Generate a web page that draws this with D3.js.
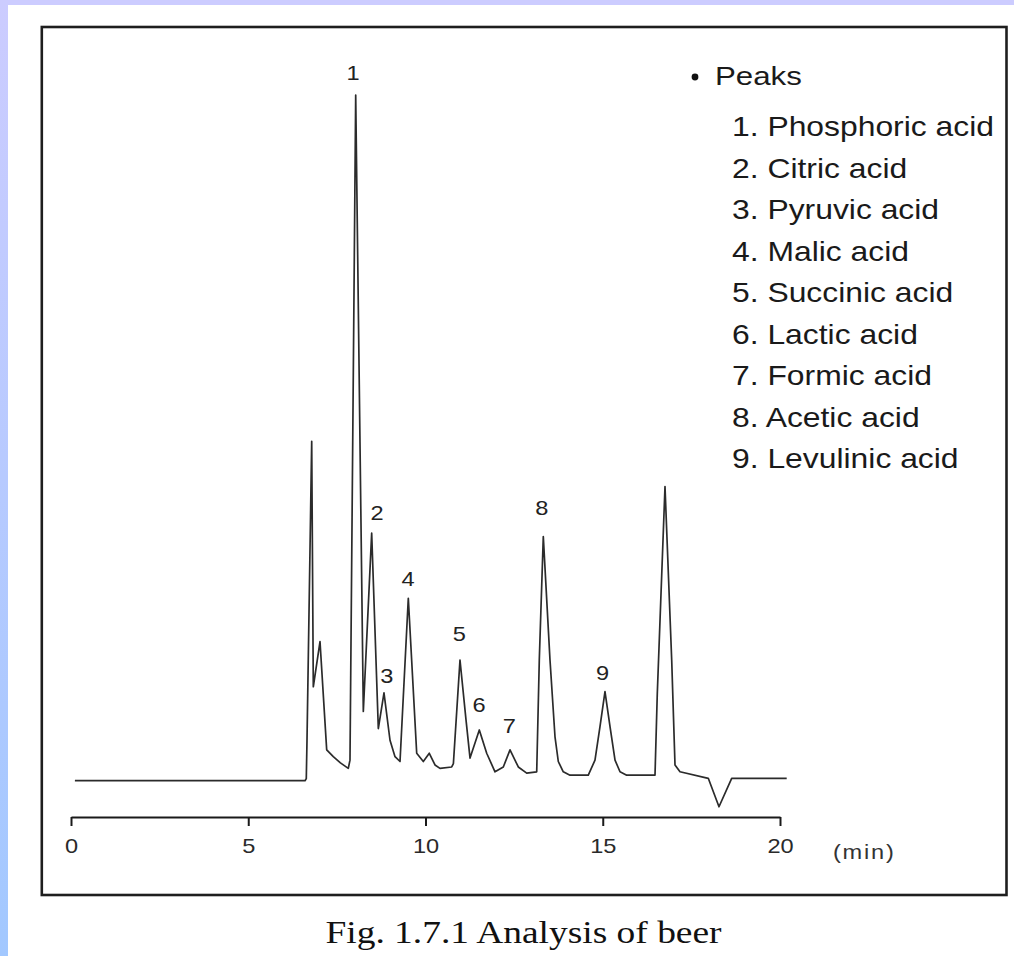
<!DOCTYPE html>
<html>
<head>
<meta charset="utf-8">
<script src="https://cdn.jsdelivr.net/npm/d3@7"></script>
<style>
  html, body { margin: 0; padding: 0; background: #ffffff; }
  svg { display: block; }
</style>
</head>
<body>
<svg id="chart" width="1014" height="956"></svg>
<script>
// ---- Data (retention time in min, detector signal in arbitrary units) ----
const time = [
  0.11, 6.601, 6.637, 6.657, 6.790, 6.835, 7.024, 7.213, 7.399, 7.600, 7.822, 7.870,
  8.031, 8.246, 8.482, 8.669, 8.829, 8.999, 9.140, 9.281, 9.515, 9.752, 9.938,
  10.107, 10.268, 10.409, 10.739, 10.787, 10.973, 11.142, 11.256, 11.518, 11.726,
  11.961, 12.195, 12.384, 12.618, 12.855, 13.137, 13.210, 13.323, 13.512, 13.653,
  13.746, 13.887, 14.076, 14.592, 14.781, 14.922, 15.063, 15.205, 15.346, 15.487,
  15.675, 16.474, 16.539, 16.756, 16.945, 17.038, 17.179, 17.977, 18.279, 18.637,
  20.189
];
const signal = [
  0, 0, 0.3, 5.8, 49.5, 13.7, 20.3, 4.5, 3.5, 2.6, 1.8, 3.0,
  100, 10.1, 36.1, 7.6, 12.8, 5.9, 3.5, 2.8, 26.6, 4.0, 2.8,
  4.0, 2.3, 1.8, 2.0, 2.5, 17.6, 8.9, 3.3, 7.4, 4.0,
  1.3, 2.0, 4.5, 2.0, 1.1, 1.3, 17.6, 35.6, 17.6, 6.4,
  2.8, 1.3, 0.8, 0.8, 3.0, 7.9, 13.0, 7.9, 3.0, 1.3,
  0.8, 0.8, 12.8, 42.9, 17.6, 2.3, 1.3, 0.35, -3.8, 0.35,
  0.35
];

// Peak annotations (number label, placed in data coordinates)
const peakLabels = ["1", "2", "3", "4", "5", "6", "7", "8", "9"];
const labelTime  = [7.955, 8.632, 8.906, 9.506, 10.953, 11.509, 12.364, 13.278, 14.993];
const labelValue = [102.2, 38.0, 14.25, 28.4, 20.4, 10.06, 6.91, 38.75, 14.69];

// Legend
const legendTitle = "Peaks";
const compounds = [
  "Phosphoric acid", "Citric acid", "Pyruvic acid", "Malic acid", "Succinic acid",
  "Lactic acid", "Formic acid", "Acetic acid", "Levulinic acid"
];

// Axis
const xTicks = [0, 5, 10, 15, 20];
const xUnit = "(min)";
const caption = "Fig. 1.7.1 Analysis of beer";

// ---- Drawing ----
const svg = d3.select("#chart");
const STRETCH = 1.18;

// page decoration (slide background strips)
const defs = svg.append("defs");
const grad = defs.append("linearGradient").attr("id", "sideGrad")
  .attr("x1", 0).attr("y1", 0).attr("x2", 0).attr("y2", 1);
grad.append("stop").attr("offset", "0%").attr("stop-color", "#ccccff");
grad.append("stop").attr("offset", "100%").attr("stop-color", "#a2c8ff");
svg.append("rect").attr("x", 0).attr("y", 0).attr("width", 1014).attr("height", 5).attr("fill", "#ccccff");
svg.append("rect").attr("x", 0).attr("y", 0).attr("width", 8).attr("height", 956).attr("fill", "url(#sideGrad)");

// frame
svg.append("rect")
  .attr("x", 41.8).attr("y", 27).attr("width", 964.7).attr("height", 868)
  .attr("fill", "none").attr("stroke", "#1e1e1e").attr("stroke-width", 2.6);

const x = d3.scaleLinear().domain([0, 20]).range([71, 780]);
const y = d3.scaleLinear().domain([0, 100]).range([780.7, 95]);

// x axis
const axisG = svg.append("g").attr("transform", "translate(0,817)")
  .call(d3.axisBottom(x).tickValues(xTicks).tickSize(9).tickSizeOuter(0).tickFormat(d3.format("d")));
axisG.select(".domain").attr("stroke", "#1a1a1a").attr("stroke-width", 2);
axisG.selectAll(".tick line").attr("stroke", "#1a1a1a").attr("stroke-width", 2);
axisG.selectAll(".tick text")
  .attr("y", 22)
  .attr("font-family", "Liberation Sans, Arial, sans-serif")
  .attr("font-size", 20)
  .attr("fill", "#2a2a2a")
  .attr("transform", `scale(${STRETCH},1)`);

svg.append("text")
  .attr("transform", `translate(833,859) scale(${STRETCH},1)`)
  .attr("font-family", "Liberation Sans, Arial, sans-serif")
  .attr("font-size", 20)
  .attr("letter-spacing", 1.5)
  .attr("fill", "#333")
  .text(xUnit);

// chromatogram trace
const pts = time.map((t, i) => [t, signal[i]]);
const line = d3.line().x(d => x(d[0])).y(d => y(d[1])).curve(d3.curveLinear);
svg.append("path")
  .datum(pts)
  .attr("d", line)
  .attr("fill", "none")
  .attr("stroke", "#2b2b2b")
  .attr("stroke-width", 1.7)
  .attr("stroke-linejoin", "round");

// peak labels
svg.append("g").selectAll("text")
  .data(peakLabels)
  .join("text")
  .attr("transform", (d, i) => `translate(${x(labelTime[i])},${y(labelValue[i])}) scale(${STRETCH},1)`)
  .attr("text-anchor", "middle")
  .attr("font-family", "Liberation Sans, Arial, sans-serif")
  .attr("font-size", 20)
  .attr("fill", "#222")
  .text(d => d);

// legend
const lg = svg.append("g");
lg.append("circle").attr("cx", 695).attr("cy", 77).attr("r", 3.4).attr("fill", "#111");
lg.append("text")
  .attr("transform", `translate(715,85) scale(${STRETCH},1)`)
  .attr("font-family", "Liberation Sans, Arial, sans-serif")
  .attr("font-size", 26.5)
  .attr("fill", "#1a1a1a")
  .text(legendTitle);
lg.selectAll("text.item")
  .data(compounds)
  .join("text")
  .attr("class", "item")
  .attr("transform", (d, i) => `translate(732,${136 + i * 41.5}) scale(${STRETCH},1)`)
  .attr("font-family", "Liberation Sans, Arial, sans-serif")
  .attr("font-size", 27)
  .attr("fill", "#1a1a1a")
  .text((d, i) => `${i + 1}. ${d}`);

// caption
svg.append("text")
  .attr("transform", `translate(523.5,942.5) scale(1.17,1)`)
  .attr("text-anchor", "middle")
  .attr("font-family", "Liberation Serif, Times New Roman, serif")
  .attr("font-size", 32)
  .attr("fill", "#111")
  .text(caption);
</script>
</body>
</html>
